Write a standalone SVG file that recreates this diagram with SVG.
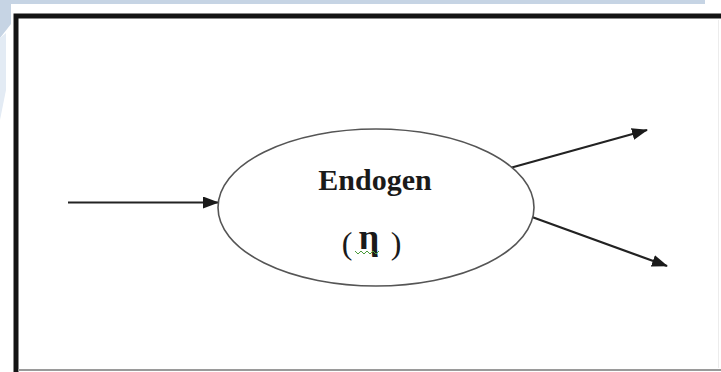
<svg xmlns="http://www.w3.org/2000/svg" width="721" height="372" viewBox="0 0 721 372">
  <style>
    .frame { fill: none; stroke: #141414; stroke-width: 5; }
    .node { fill: #ffffff; stroke: #555555; stroke-width: 1.6; }
    .label { font-family: "Liberation Serif", "Times New Roman", serif; fill: #1a1a1a; text-anchor: middle; }
    .conn { stroke: #222222; stroke-width: 2.2; fill: none; marker-end: url(#head); }
  </style>
  <defs>
    <marker id="head" viewBox="0 0 16 12" refX="15" refY="6" markerWidth="16" markerHeight="12" markerUnits="userSpaceOnUse" orient="auto">
      <path d="M0,0 L16,6 L0,12 Z" fill="#1a1a1a"/>
    </marker>
  </defs>

  <!-- page background -->
  <rect x="0" y="0" width="721" height="372" fill="#ffffff"/>
  <rect x="0" y="0" width="705" height="4" fill="#c6d4e4"/>
  <polygon points="0,0 11,0 11,24 0,38" fill="#c6d4e4"/>
  <polygon points="0,38 6,33 6,90 0,120" fill="#e3ebf4"/>

  <!-- outer frame -->
  <path class="frame" d="M16,372 L16,16 L721,16"/>
  <line x1="18" y1="370" x2="721" y2="370" stroke="#9a9a9a" stroke-width="2"/>
  <line x1="718.5" y1="20" x2="718.5" y2="368" stroke="#ececec" stroke-width="1"/>

  <!-- connectors -->
  <g id="connectors">
    <line class="conn" x1="68" y1="202.5" x2="218" y2="202.5"/>
    <line class="conn" x1="510" y1="168" x2="647" y2="130"/>
    <line class="conn" x1="532" y1="217" x2="667" y2="266"/>
  </g>

  <!-- endogenous variable -->
  <g id="endogen">
    <ellipse class="node" cx="376" cy="207.5" rx="158" ry="78.5"/>
    <text class="label" x="375" y="190" font-size="30" font-weight="bold">Endogen</text>
    <text class="label" font-size="32"><tspan x="347" y="254">(</tspan><tspan x="369" y="249" font-size="36" font-weight="bold">η</tspan><tspan x="396" y="254">)</tspan></text>
    <polyline points="355,251 358,254 361,251 364,254 367,251 370,254 373,251 376,254 379,251" fill="none" stroke="#4a9a3a" stroke-width="1"/>
  </g>
</svg>
